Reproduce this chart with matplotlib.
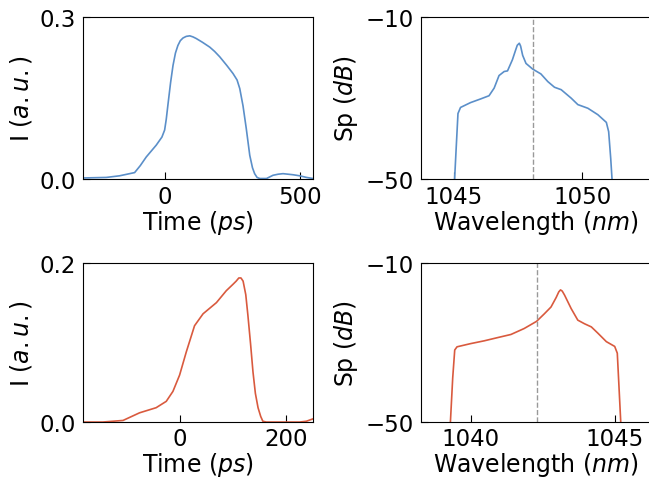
import matplotlib
matplotlib.use("Agg")
from matplotlib import pyplot as plt

plt.rcParams['font.size'] = 16.5
plt.rcParams['axes.labelsize'] = 17
plt.rcParams['mathtext.fontset'] = 'dejavusans'

BLUE = '#5b8fc9'
RED = '#d95a3e'

# top row: temporal intensity and spectrum of pulse 1
t1 = [-302, -216, -167, -111, -90, -68, -31, -10, 0, 6, 12, 22, 31, 40, 49, 58,
      68, 80, 93, 105, 117, 140, 167, 185, 204, 230, 253, 268, 278, 290, 302,
      315, 325, 333, 342, 352, 377, 401, 420, 438, 475, 500, 525, 549]
i1 = [0.001, 0.002, 0.005, 0.011, 0.024, 0.040, 0.062, 0.077, 0.090, 0.110,
      0.136, 0.178, 0.210, 0.233, 0.247, 0.256, 0.261, 0.264, 0.265, 0.263,
      0.260, 0.253, 0.244, 0.236, 0.226, 0.210, 0.195, 0.183, 0.167, 0.135,
      0.093, 0.043, 0.020, 0.009, 0.002, 0.0, 0.0, 0.006, 0.008, 0.009, 0.007,
      0.005, 0.002, 0.0]

wl1 = [1044.95, 1045.03, 1045.09, 1045.16, 1045.26, 1045.65, 1046.04, 1046.37,
       1046.57, 1046.76, 1046.96, 1047.09, 1047.28, 1047.40, 1047.47, 1047.55,
       1047.60, 1047.68, 1047.81, 1048.07, 1048.39, 1048.66, 1048.92, 1049.18,
       1049.57, 1049.83, 1050.22, 1050.61, 1050.94, 1051.03, 1051.11, 1051.16,
       1051.22]
sp1 = [-60, -50, -42.5, -33.9, -32.4, -31.2, -30.3, -29.5, -27.6, -24.5, -23.5,
       -23.35, -20.6, -18.3, -17.0, -16.5, -17.2, -19.5, -21.5, -22.9, -24.1,
       -26.0, -27.4, -28.0, -30.1, -31.7, -32.6, -34.2, -36.1, -38.4, -45.0,
       -50, -60]
center1 = 1048.07

# bottom row: pulse 2
t2 = [-181, -144, -106, -75, -44, -25, -12.5, 0, 12.5, 28, 44, 69, 87.5, 100,
      106, 111, 115, 119, 124, 128, 133, 137.5, 142, 147, 152, 156, 162.5, 225,
      237.5, 250]
i2 = [0.0, 0.0, 0.002, 0.0116, 0.018, 0.026, 0.0385, 0.059, 0.088, 0.121,
      0.136, 0.150, 0.165, 0.173, 0.177, 0.181, 0.181, 0.177, 0.160, 0.134,
      0.098, 0.063, 0.036, 0.018, 0.007, 0.001, 0.0, 0.0, 0.001, 0.004]

wl2 = [1039.25, 1039.30, 1039.38, 1039.45, 1039.53, 1040.0, 1040.47, 1040.93,
       1041.40, 1041.86, 1042.29, 1042.56, 1042.79, 1042.97, 1043.06, 1043.12,
       1043.18, 1043.26, 1043.49, 1043.72, 1043.95, 1044.19, 1044.42, 1044.71,
       1045.0, 1045.09, 1045.15, 1045.21, 1045.27]
sp2 = [-60, -50, -38.9, -31.9, -31.1, -30.3, -29.6, -28.8, -28.0, -26.5, -24.7,
       -22.8, -21.1, -18.7, -17.3, -16.8, -17.1, -18.1, -21.5, -24.4, -25.3,
       -26.1, -27.7, -29.8, -31.0, -32.7, -41.3, -50, -60]
center2 = 1042.29

fig = plt.figure(figsize=(6.49, 4.81), dpi=100)
w = 0.3544
ax_t1 = fig.add_axes([0.1279, 0.6268, w, 0.3358])
ax_s1 = fig.add_axes([0.6487, 0.6268, w, 0.3358])
ax_t2 = fig.add_axes([0.1279, 0.1205, w, 0.3310])
ax_s2 = fig.add_axes([0.6487, 0.1205, w, 0.3310])

ax_t1.plot(t1, i1, color=BLUE, lw=1.2)
ax_t1.set_xlim(-302, 549)
ax_t1.set_ylim(0, 0.3)
ax_t1.set_xticks([0, 500])
ax_t1.set_yticks([0.0, 0.3])
ax_t1.set_yticklabels(['0.0', '0.3'])

ax_t2.plot(t2, i2, color=RED, lw=1.2)
ax_t2.set_xlim(-181, 250)
ax_t2.set_ylim(0, 0.2)
ax_t2.set_xticks([0, 200])
ax_t2.set_yticks([0.0, 0.2])
ax_t2.set_yticklabels(['0.0', '0.2'])

ax_s1.plot(wl1, sp1, color=BLUE, lw=1.2)
ax_s1.axvline(center1, color='#999999', ls='--', lw=1)
ax_s1.set_xlim(1043.72, 1052.68)
ax_s1.set_xticks([1045, 1050])

ax_s2.plot(wl2, sp2, color=RED, lw=1.2)
ax_s2.axvline(center2, color='#999999', ls='--', lw=1)
ax_s2.set_xlim(1038.28, 1046.26)
ax_s2.set_xticks([1040, 1045])

for ax in (ax_s1, ax_s2):
    ax.set_ylim(-50, -10)
    ax.set_yticks([-10, -50])
    ax.set_ylabel(r'Sp ($dB$)')
    ax.set_xlabel(r'Wavelength ($nm$)', labelpad=0)

for ax in (ax_t1, ax_t2):
    ax.set_ylabel(r'I ($a.u.$)')
    ax.set_xlabel(r'Time ($ps$)', labelpad=0)

for ax in (ax_t1, ax_s1):
    ax.tick_params(direction='in', length=5, pad=5)
# bottom row a touch tighter so its labels stay on the canvas
for ax in (ax_t2, ax_s2):
    ax.tick_params(direction='in', length=5, pad=5)
    ax.tick_params(axis='x', pad=3.5)

fig.savefig('out.png', dpi=100)
